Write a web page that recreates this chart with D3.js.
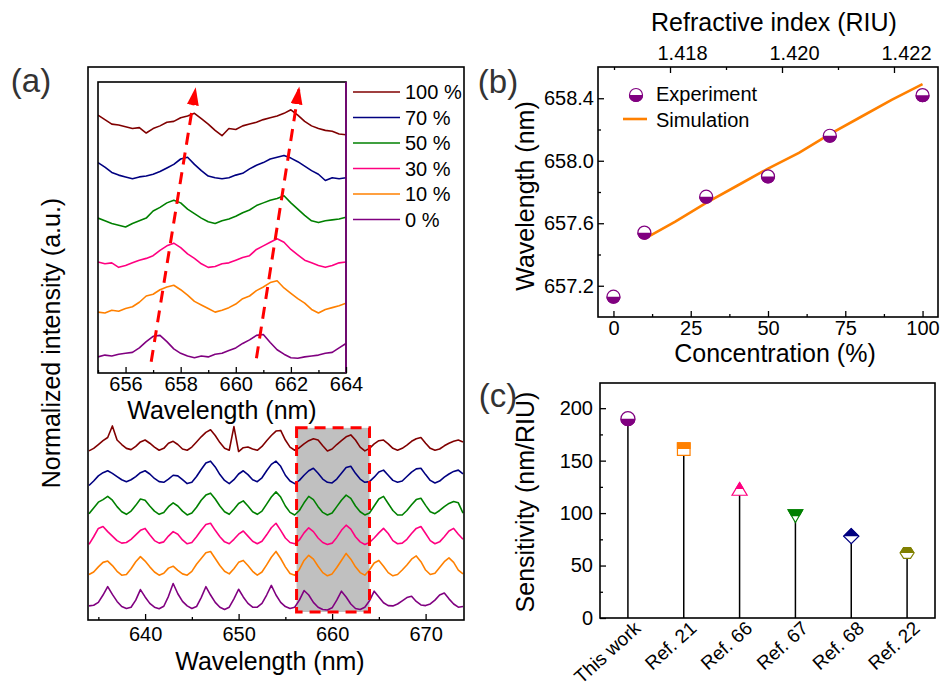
<!DOCTYPE html>
<html>
<head>
<meta charset="utf-8">
<script src="https://cdn.jsdelivr.net/npm/d3@7"></script>
<style>
body{margin:0;background:#fff;}
</style>
</head>
<body>
<svg id="chart" width="947" height="693"></svg>
<script>
// ---------------- data ----------------
// stacked spectra, bottom to top
var seriesNames = ["0 %", "10 %", "30 %", "50 %", "70 %", "100 %"];
var offsets = [0, 1, 2, 3, 4, 5];

// full spectra, 634 - 674 nm every 0.5 nm
var mainStart = 634, mainStep = 0.5;
var spec0 = [0.44,0.46,0.55,0.78,1.04,0.80,0.58,0.42,0.36,0.40,
  0.62,0.95,0.72,0.52,0.40,0.35,0.43,0.74,1.14,0.82,
  0.58,0.44,0.36,0.42,0.70,1.04,0.78,0.55,0.40,0.33,
  0.40,0.66,0.96,0.72,0.52,0.40,0.40,0.52,0.78,1.08,
  0.78,0.55,0.42,0.36,0.40,0.62,0.92,0.78,0.55,0.40,
  0.33,0.31,0.38,0.62,0.90,0.72,0.50,0.36,0.33,0.40,
  0.60,0.90,0.72,0.54,0.45,0.44,0.50,0.60,0.70,0.74,
  0.58,0.47,0.45,0.50,0.62,0.78,0.84,0.66,0.50,0.40,0.42];
var spec10 = [0.42,0.50,0.66,0.80,0.84,0.70,0.52,0.40,0.42,0.60,
  0.82,0.98,0.84,0.66,0.50,0.40,0.46,0.62,0.68,0.55,
  0.44,0.40,0.52,0.74,0.92,1.10,1.14,0.92,0.70,0.52,
  0.44,0.60,0.80,0.86,0.70,0.52,0.40,0.50,0.72,0.96,
  1.14,0.92,0.66,0.45,0.40,0.58,0.86,1.02,0.90,0.68,
  0.48,0.38,0.44,0.64,0.86,1.08,0.90,0.66,0.48,0.40,
  0.56,0.78,0.86,0.68,0.48,0.38,0.42,0.56,0.72,0.90,
  1.00,0.82,0.56,0.42,0.46,0.64,0.82,0.94,0.80,0.56,0.44];
var spec30 = [0.36,0.60,0.86,0.92,0.76,0.62,0.48,0.40,0.42,0.52,
  0.66,0.80,0.86,0.66,0.48,0.40,0.44,0.62,0.76,0.68,
  0.50,0.38,0.42,0.60,0.80,0.98,1.02,0.80,0.60,0.44,
  0.38,0.52,0.68,0.78,0.62,0.46,0.38,0.46,0.66,0.88,
  1.02,0.80,0.56,0.42,0.38,0.50,0.72,0.88,0.76,0.56,
  0.42,0.36,0.40,0.58,0.80,0.96,0.84,0.60,0.44,0.36,
  0.42,0.56,0.72,0.86,0.70,0.48,0.38,0.40,0.52,0.70,
  0.86,0.92,0.70,0.48,0.38,0.44,0.60,0.78,0.86,0.68,0.52];
var spec50 = [0.32,0.50,0.68,0.76,0.86,0.74,0.54,0.38,0.30,0.40,
  0.58,0.78,0.74,0.56,0.40,0.30,0.36,0.54,0.66,0.56,
  0.40,0.28,0.34,0.52,0.74,0.90,0.96,0.78,0.56,0.38,
  0.30,0.46,0.64,0.72,0.56,0.38,0.30,0.40,0.62,0.84,
  1.00,0.84,0.56,0.36,0.28,0.42,0.66,0.86,0.76,0.54,
  0.36,0.28,0.34,0.54,0.74,0.90,0.80,0.56,0.38,0.28,
  0.34,0.56,0.78,0.86,0.64,0.42,0.28,0.28,0.42,0.60,
  0.76,0.80,0.58,0.38,0.32,0.42,0.54,0.64,0.70,0.66,0.34];
var spec70 = [0.20,0.34,0.50,0.60,0.66,0.58,0.48,0.38,0.32,0.38,
  0.48,0.60,0.66,0.56,0.42,0.32,0.30,0.40,0.52,0.50,
  0.38,0.26,0.30,0.48,0.70,0.90,0.96,0.78,0.54,0.36,
  0.26,0.38,0.56,0.66,0.54,0.38,0.32,0.44,0.66,0.86,
  0.96,0.80,0.52,0.34,0.26,0.36,0.52,0.66,0.74,0.58,
  0.40,0.30,0.28,0.40,0.58,0.76,0.80,0.58,0.40,0.30,
  0.32,0.46,0.62,0.68,0.52,0.36,0.30,0.34,0.48,0.62,
  0.72,0.74,0.54,0.36,0.28,0.34,0.46,0.56,0.64,0.68,0.56];
var spec100 = [0.28,0.36,0.48,0.60,0.70,1.06,0.62,0.48,0.36,0.32,
  0.42,0.56,0.62,0.52,0.40,0.30,0.36,0.52,0.58,0.48,
  0.34,0.30,0.40,0.56,0.72,0.86,0.94,0.76,0.54,0.36,
  0.30,1.04,0.26,0.38,0.40,0.34,0.30,0.42,0.60,0.76,
  0.90,0.92,0.62,0.40,0.30,0.38,0.50,0.60,0.66,0.62,
  0.44,0.28,0.34,0.48,0.60,0.72,0.78,0.62,0.40,0.28,
  0.36,0.50,0.60,0.62,0.50,0.36,0.30,0.36,0.46,0.58,
  0.66,0.70,0.52,0.36,0.30,0.34,0.44,0.52,0.58,0.62,0.56];

// zoomed spectra (inset), 655 - 664 nm every 0.25 nm
var insetStart = 655, insetStep = 0.25;
var zoom0 = [0.36,0.40,0.38,0.42,0.44,0.46,0.56,0.70,0.82,0.84,
  0.70,0.54,0.44,0.38,0.34,0.38,0.36,0.42,0.44,0.50,
  0.56,0.66,0.74,0.84,0.86,0.68,0.52,0.42,0.34,0.33,
  0.36,0.38,0.40,0.44,0.46,0.56,0.66];
var zoom10 = [0.36,0.34,0.40,0.38,0.44,0.48,0.58,0.72,0.76,0.86,
  0.92,0.96,0.86,0.74,0.60,0.52,0.44,0.36,0.40,0.46,
  0.54,0.66,0.72,0.84,0.92,1.02,1.06,0.90,0.78,0.66,
  0.56,0.42,0.34,0.42,0.46,0.50,0.56];
var zoom30 = [0.48,0.44,0.46,0.36,0.40,0.46,0.52,0.56,0.62,0.74,
  0.84,0.90,0.80,0.66,0.56,0.44,0.36,0.38,0.44,0.46,
  0.52,0.58,0.62,0.76,0.84,0.92,1.00,0.92,0.76,0.64,
  0.52,0.46,0.40,0.36,0.40,0.46,0.48];
var zoom50 = [0.46,0.40,0.34,0.30,0.26,0.34,0.40,0.46,0.62,0.70,
  0.80,0.86,0.80,0.66,0.56,0.46,0.38,0.34,0.40,0.44,
  0.50,0.58,0.64,0.74,0.80,0.86,0.90,0.96,0.80,0.66,
  0.52,0.40,0.36,0.40,0.42,0.44,0.48];
var zoom70 = [0.70,0.60,0.48,0.42,0.38,0.34,0.38,0.40,0.44,0.50,
  0.58,0.66,0.78,0.82,0.66,0.52,0.40,0.36,0.34,0.36,
  0.42,0.46,0.56,0.64,0.70,0.78,0.82,0.86,0.80,0.72,
  0.62,0.52,0.44,0.30,0.36,0.34,0.36];
var zoom100 = [0.76,0.66,0.56,0.54,0.50,0.46,0.48,0.36,0.46,0.52,
  0.60,0.62,0.70,0.74,0.80,0.68,0.56,0.42,0.30,0.46,
  0.44,0.52,0.56,0.60,0.66,0.70,0.74,0.80,0.88,0.76,
  0.62,0.52,0.46,0.42,0.40,0.34,0.32];

// highlighted window and peak-shift arrows
var windowNm = [656.2, 664];
var windowLevel = [0.25, 6.0];
var arrowFrom = [[656.93, 0.25], [660.75, 0.33]];
var arrowTo = [[658.54, 6.36], [662.3, 6.38]];

// (b) peak wavelength vs concentration
var concentration = [0, 10, 30, 50, 70, 100];
var expWavelength = [657.13, 657.54, 657.77, 657.90, 658.16, 658.42];
var simConcentration = [10, 20, 30, 40, 50, 60, 70, 80, 90, 100];
var simWavelength = [657.50, 657.61, 657.73, 657.84, 657.95, 658.05, 658.17, 658.28, 658.39, 658.49];
var riTicks = [1.418, 1.420, 1.422];

// (c) sensitivity comparison
var refs = ["This work", "Ref. 21", "Ref. 66", "Ref. 67", "Ref. 68", "Ref. 22"];
var sensitivity = [190, 161, 123, 97, 78, 62];

// ---------------- styles ----------------
var FONT = "'Liberation Sans', Arial, Helvetica, sans-serif";
var TICK = 20, TITLE = 25;
var traceColors = ["#800080", "#ff8000", "#ff0080", "#008000", "#000080", "#800000"];
var refShapes = ["circle", "square", "triangle", "triangleDown", "diamond", "hexagon"];
var refColors = ["#800080", "#ff8000", "#ff0080", "#008000", "#000080", "#808000"];

var mainSpectra = [spec0, spec10, spec30, spec50, spec70, spec100];
var insetSpectra = [zoom0, zoom10, zoom30, zoom50, zoom70, zoom100];

var svg = d3.select("#chart");
svg.append("rect").attr("width", 947).attr("height", 693).attr("fill", "#fff");
var defs = svg.append("defs");

function styleAxis(g, size){
    g.attr("font-family", FONT).attr("font-size", size);
    g.select(".domain").remove();
    g.selectAll(".tick line").attr("stroke", "#000").attr("stroke-width", 1.3);
    g.selectAll(".tick text").attr("fill", "#000");
}

function label(x, y, txt, size, rot, fill){
    var t = svg.append("text")
        .attr("font-family", FONT)
        .attr("font-size", size)
        .attr("fill", fill || "#000")
        .attr("text-anchor", "middle")
        .text(txt);
    if(rot){
        t.attr("transform", "translate(" + x + "," + y + ") rotate(" + rot + ")");
    }else{
        t.attr("x", x).attr("y", y);
    }
    return t;
}

// ================= (a) main spectra =================
var xA = d3.scaleLinear().domain([634, 674]).range([89, 463]);
var yA = d3.scaleLinear().domain([0, 17.3]).range([620, 66]);

defs.append("clipPath").attr("id", "clipA").append("rect")
    .attr("x", 88).attr("y", 67).attr("width", 376).attr("height", 553);

// grey window
svg.append("rect")
    .attr("x", xA(windowNm[0])).attr("y", yA(windowLevel[1]))
    .attr("width", xA(windowNm[1]) - xA(windowNm[0]))
    .attr("height", yA(windowLevel[0]) - yA(windowLevel[1]))
    .attr("fill", "#c0c0c0");

var gA = svg.append("g").attr("clip-path", "url(#clipA)");
mainSpectra.forEach(function(s, k){
    var line = d3.line()
        .x(function(d, i){ return xA(mainStart + i * mainStep); })
        .y(function(d){ return yA(d + offsets[k]); });
    gA.append("path").datum(s)
        .attr("d", line)
        .attr("fill", "none")
        .attr("stroke", traceColors[k])
        .attr("stroke-width", 1.6)
        .attr("stroke-linejoin", "round");
});

// red dashed outline of the window
svg.append("rect")
    .attr("x", xA(windowNm[0])).attr("y", yA(windowLevel[1]))
    .attr("width", xA(windowNm[1]) - xA(windowNm[0]))
    .attr("height", yA(windowLevel[0]) - yA(windowLevel[1]))
    .attr("fill", "none")
    .attr("stroke", "#ff0000")
    .attr("stroke-width", 3)
    .attr("stroke-dasharray", "11,7");

svg.append("rect").attr("x", 88).attr("y", 67).attr("width", 376).attr("height", 553)
    .attr("fill", "none").attr("stroke", "#000").attr("stroke-width", 1.6);

var axA = svg.append("g").attr("transform", "translate(0,620)")
    .call(d3.axisBottom(xA).tickValues([640, 650, 660, 670]).tickSize(-6).tickPadding(7));
styleAxis(axA, TICK);
var axAm = svg.append("g").attr("transform", "translate(0,620)")
    .call(d3.axisBottom(xA).tickValues([635, 645, 655, 665]).tickSize(-3).tickFormat(""));
styleAxis(axAm, TICK);

label(270, 670, "Wavelength (nm)", TITLE);
label(60, 343, "Normalized intensity (a.u.)", TITLE, -90);

// ================= (a) inset =================
var xI = d3.scaleLinear().domain([655, 664]).range([98, 346]);
var yI = d3.scaleLinear().domain([0, 6.5]).range([373, 82]);

svg.append("rect").attr("x", 98).attr("y", 82).attr("width", 248).attr("height", 291)
    .attr("fill", "#fff");
defs.append("clipPath").attr("id", "clipI").append("rect")
    .attr("x", 98).attr("y", 82).attr("width", 248).attr("height", 291);

var gI = svg.append("g").attr("clip-path", "url(#clipI)");
insetSpectra.forEach(function(s, k){
    var line = d3.line()
        .x(function(d, i){ return xI(insetStart + i * insetStep); })
        .y(function(d){ return yI(d + offsets[k]); });
    gI.append("path").datum(s)
        .attr("d", line)
        .attr("fill", "none")
        .attr("stroke", traceColors[k])
        .attr("stroke-width", 1.6)
        .attr("stroke-linejoin", "round");
});

defs.append("marker").attr("id", "arrowHead")
    .attr("viewBox", "0 0 18 12").attr("refX", 17).attr("refY", 6)
    .attr("markerWidth", 18).attr("markerHeight", 12)
    .attr("markerUnits", "userSpaceOnUse").attr("orient", "auto")
    .append("path").attr("d", "M0,0L18,6L0,12Z").attr("fill", "#ff0000");

arrowFrom.forEach(function(f, i){
    svg.append("line")
        .attr("x1", xI(f[0])).attr("y1", yI(f[1]))
        .attr("x2", xI(arrowTo[i][0])).attr("y2", yI(arrowTo[i][1]))
        .attr("stroke", "#ff0000").attr("stroke-width", 3)
        .attr("stroke-dasharray", "12,8")
        .attr("marker-end", "url(#arrowHead)");
});

svg.append("rect").attr("x", 98).attr("y", 82).attr("width", 248).attr("height", 291)
    .attr("fill", "none").attr("stroke", "#000").attr("stroke-width", 1.6);
svg.append("line").attr("x1", 346).attr("x2", 346).attr("y1", 82).attr("y2", 373)
    .attr("stroke", "#800080").attr("stroke-width", 1.6);

var axI = svg.append("g").attr("transform", "translate(0,373)")
    .call(d3.axisBottom(xI).tickValues([656, 658, 660, 662, 664]).tickSize(-6).tickPadding(4));
styleAxis(axI, TICK);
var axIm = svg.append("g").attr("transform", "translate(0,373)")
    .call(d3.axisBottom(xI).tickValues([655, 657, 659, 661, 663]).tickSize(-3).tickFormat(""));
styleAxis(axIm, TICK);
label(222, 419, "Wavelength (nm)", TITLE);

// legend (top row = 100 %)
var legA = svg.append("g").attr("font-family", FONT).attr("font-size", 20);
seriesNames.slice().reverse().forEach(function(n, i){
    var k = seriesNames.length - 1 - i;
    var yy = 92 + i * 25.5;
    legA.append("line").attr("x1", 353).attr("x2", 400).attr("y1", yy).attr("y2", yy)
        .attr("stroke", traceColors[k]).attr("stroke-width", 1.6);
    legA.append("text").attr("x", 405).attr("y", yy + 7).text(n);
});

label(31, 92, "(a)", 33, 0, "#333");

// ================= (b) =================
var xB = d3.scaleLinear().domain([-5, 105]).range([598, 938]);
var yB = d3.scaleLinear().domain([657.0, 658.6]).range([317, 67]);
var riB = d3.scaleLinear().domain([1.416714, 1.422786]).range([598, 938]);

function markerPath(shape, r){
    var p = d3.path();
    if(shape === "circle"){
        p.arc(0, 0, r, 0, 2 * Math.PI);
    }else if(shape === "square"){
        p.rect(-r, -r, 2 * r, 2 * r);
    }else if(shape === "triangle"){
        p.moveTo(0, -r); p.lineTo(r * 1.2, r); p.lineTo(-r * 1.2, r); p.closePath();
    }else if(shape === "triangleDown"){
        p.moveTo(0, r); p.lineTo(r * 1.15, -r); p.lineTo(-r * 1.15, -r); p.closePath();
    }else if(shape === "diamond"){
        p.moveTo(0, -r * 1.2); p.lineTo(r * 1.2, 0); p.lineTo(0, r * 1.2); p.lineTo(-r * 1.2, 0); p.closePath();
    }else if(shape === "hexagon"){
        for(var k = 0; k < 6; k++){
            var a = k * Math.PI / 3;
            if(k === 0) p.moveTo(r * 1.1 * Math.cos(a), r * Math.sin(a));
            else p.lineTo(r * 1.1 * Math.cos(a), r * Math.sin(a));
        }
        p.closePath();
    }
    return p.toString();
}

defs.append("clipPath").attr("id", "halfTop").append("rect")
    .attr("x", -20).attr("y", -20).attr("width", 40).attr("height", 20);
defs.append("clipPath").attr("id", "halfBottom").append("rect")
    .attr("x", -20).attr("y", 0).attr("width", 40).attr("height", 20);

function halfMarker(parent, x, y, shape, r, color, top){
    var g = parent.append("g").attr("transform", "translate(" + x + "," + y + ")");
    var d = markerPath(shape, r);
    g.append("path").attr("d", d).attr("fill", "#fff").attr("stroke", color).attr("stroke-width", 1.2);
    g.append("path").attr("d", d).attr("fill", color).attr("stroke", color).attr("stroke-width", 1.2)
        .attr("clip-path", top ? "url(#halfTop)" : "url(#halfBottom)");
}

var simLine = d3.line()
    .x(function(d, i){ return xB(simConcentration[i]); })
    .y(function(d){ return yB(d); });
svg.append("path").datum(simWavelength).attr("d", simLine)
    .attr("fill", "none").attr("stroke", "#ff8000").attr("stroke-width", 2.6);

var gB = svg.append("g");
concentration.forEach(function(c, i){
    halfMarker(gB, xB(c), yB(expWavelength[i]), "circle", 6.5, "#800080", false);
});

svg.append("rect").attr("x", 598).attr("y", 67).attr("width", 340).attr("height", 250)
    .attr("fill", "none").attr("stroke", "#000").attr("stroke-width", 1.6);

var axBl = svg.append("g").attr("transform", "translate(598,0)")
    .call(d3.axisLeft(yB).tickValues([657.2, 657.6, 658.0, 658.4]).tickSize(-6).tickPadding(4)
        .tickFormat(d3.format(".1f")));
styleAxis(axBl, TICK);
var axBlm = svg.append("g").attr("transform", "translate(598,0)")
    .call(d3.axisLeft(yB).tickValues([657.4, 657.8, 658.2]).tickSize(-3).tickFormat(""));
styleAxis(axBlm, TICK);
var axBb = svg.append("g").attr("transform", "translate(0,317)")
    .call(d3.axisBottom(xB).tickValues([0, 25, 50, 75, 100]).tickSize(-6).tickPadding(4));
styleAxis(axBb, TICK);
var axBbm = svg.append("g").attr("transform", "translate(0,317)")
    .call(d3.axisBottom(xB).tickValues([12.5, 37.5, 62.5, 87.5]).tickSize(-3).tickFormat(""));
styleAxis(axBbm, TICK);
var axBt = svg.append("g").attr("transform", "translate(0,67)")
    .call(d3.axisTop(riB).tickValues(riTicks).tickSize(-6).tickPadding(7)
        .tickFormat(d3.format(".3f")));
styleAxis(axBt, TICK);
axBt.selectAll(".tick text").attr("dx", 12);
var axBtm = svg.append("g").attr("transform", "translate(0,67)")
    .call(d3.axisTop(riB).tickValues([1.417, 1.419, 1.421]).tickSize(-3).tickFormat(""));
styleAxis(axBtm, TICK);

label(774, 31, "Refractive index (RIU)", TITLE);
label(775, 362, "Concentration (%)", TITLE);
label(534, 196, "Wavelength (nm)", TITLE, -90);
label(498, 93, "(b)", 33, 0, "#333");

// legend (b)
halfMarker(svg, 636, 95, "circle", 6.5, "#800080", false);
svg.append("text").attr("x", 656).attr("y", 101).attr("font-family", FONT).attr("font-size", 20)
    .text("Experiment");
svg.append("line").attr("x1", 623).attr("x2", 647).attr("y1", 119).attr("y2", 119)
    .attr("stroke", "#ff8000").attr("stroke-width", 2.6);
svg.append("text").attr("x", 656).attr("y", 127).attr("font-family", FONT).attr("font-size", 20)
    .text("Simulation");

// ================= (c) =================
var xC = d3.scalePoint().domain(refs).range([600, 935]).padding(0.5);
var yC = d3.scaleLinear().domain([0, 224]).range([618, 383]);

var gC = svg.append("g");
gC.selectAll("line.stem").data(refs).enter().append("line")
    .attr("class", "stem")
    .attr("x1", function(d){ return xC(d); })
    .attr("x2", function(d){ return xC(d); })
    .attr("y1", yC(0))
    .attr("y2", function(d, i){ return yC(sensitivity[i]); })
    .attr("stroke", "#000").attr("stroke-width", 1.5);
refs.forEach(function(r, i){
    halfMarker(gC, xC(r), yC(sensitivity[i]), refShapes[i], i === 0 ? 7 : 6.3, refColors[i], i !== 0);
});

svg.append("rect").attr("x", 600).attr("y", 383).attr("width", 335).attr("height", 235)
    .attr("fill", "none").attr("stroke", "#000").attr("stroke-width", 1.6);

var axCl = svg.append("g").attr("transform", "translate(600,0)")
    .call(d3.axisLeft(yC).tickValues([0, 50, 100, 150, 200]).tickSize(-6).tickPadding(7));
styleAxis(axCl, TICK);
var axClm = svg.append("g").attr("transform", "translate(600,0)")
    .call(d3.axisLeft(yC).tickValues([25, 75, 125, 175]).tickSize(-3).tickFormat(""));
styleAxis(axClm, TICK);

svg.append("g").selectAll("text").data(refs).enter().append("text")
    .attr("font-family", FONT).attr("font-size", 19)
    .attr("text-anchor", "end")
    .attr("transform", function(d){ return "translate(" + (xC(d) + 14) + ",630) rotate(-42)"; })
    .text(function(d){ return d; });

label(534, 502, "Sensitivity (nm/RIU)", TITLE, -90);
label(498, 407, "(c)", 33, 0, "#333");
</script>
</body>
</html>
